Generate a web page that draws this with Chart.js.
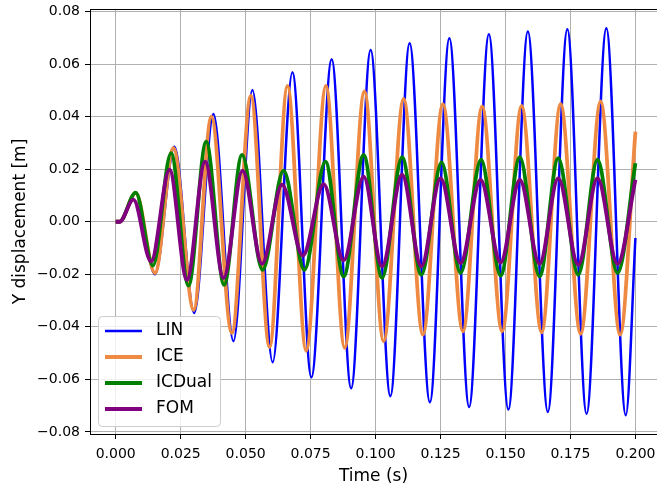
<!DOCTYPE html>
<html>
<head>
<meta charset="utf-8">
<script src="https://cdn.jsdelivr.net/npm/chart.js@4.4.1/dist/chart.umd.min.js"></script>
<style>
    body { margin: 0; background: #fff; }
    canvas { display: block; }
</style>
</head>
<body>
<canvas id="dispChart" width="657" height="487"></canvas>
<script>
// series labels, in legend order
const seriesNames = ["LIN", "ICE", "ICDual", "FOM"];

// values (extrema of each curve, plus start / end)
const linT = [0, 0.0015, 0.0077, 0.0151, 0.0226, 0.0302, 0.0376, 0.0453, 0.0526, 0.0604, 0.068, 0.0753, 0.0831, 0.0906, 0.0981, 0.1057, 0.1131, 0.1209, 0.1284, 0.136, 0.1436, 0.1511, 0.1586, 0.1663, 0.1738, 0.1812, 0.1888, 0.1963, 0.2];
const linY = [0, 0, 0.0110, -0.0200, 0.0286, -0.0347, 0.0410, -0.0455, 0.0502, -0.0535, 0.0569, -0.0592, 0.0619, -0.0634, 0.0654, -0.0664, 0.0680, -0.0687, 0.0699, -0.0705, 0.0714, -0.0715, 0.0724, -0.0724, 0.0733, -0.0731, 0.0737, -0.0737, -0.0062];

const iceT = [0, 0.0015, 0.0077, 0.0151, 0.0222, 0.0300, 0.0368, 0.0447, 0.052, 0.0592, 0.0661, 0.0733, 0.0809, 0.0881, 0.0957, 0.1031, 0.1108, 0.1182, 0.1259, 0.1336, 0.141, 0.1487, 0.1562, 0.1639, 0.1712, 0.1789, 0.1866, 0.1941, 0.2];
const iceY = [0, 0, 0.0110, -0.0195, 0.0280, -0.0335, 0.0400, -0.0424, 0.0480, -0.0477, 0.0517, -0.0491, 0.0517, -0.0480, 0.0496, -0.0455, 0.0468, -0.0430, 0.0448, -0.0417, 0.0439, -0.0417, 0.0441, -0.0421, 0.0449, -0.0427, 0.0458, -0.0430, 0.0343];

const dualT = [0, 0.0015, 0.0077, 0.0143, 0.0213, 0.028, 0.0348, 0.0417, 0.0486, 0.0565, 0.0646, 0.0726, 0.0807, 0.0877, 0.0954, 0.1025, 0.1102, 0.1176, 0.1254, 0.1327, 0.1406, 0.1481, 0.1555, 0.1631, 0.1703, 0.178, 0.1854, 0.1931, 0.2];
const dualY = [0, 0, 0.0111, -0.0167, 0.0261, -0.0243, 0.0305, -0.0240, 0.0255, -0.0183, 0.0195, -0.0183, 0.0229, -0.0208, 0.0255, -0.0214, 0.0246, -0.0202, 0.0226, -0.0195, 0.0236, -0.0205, 0.0246, -0.0208, 0.0242, -0.0202, 0.0236, -0.0195, 0.0223];

const fomT = [0, 0.0015, 0.0068, 0.0136, 0.0207, 0.0274, 0.0344, 0.0415, 0.0488, 0.0563, 0.064, 0.072, 0.08, 0.0877, 0.0954, 0.1025, 0.1102, 0.1176, 0.125, 0.1327, 0.1404, 0.1481, 0.1555, 0.1631, 0.1703, 0.178, 0.1854, 0.1931, 0.2];
const fomY = [0, 0, 0.0084, -0.0151, 0.0198, -0.0221, 0.0229, -0.0214, 0.0195, -0.0160, 0.0141, -0.0129, 0.0143, -0.0147, 0.0172, -0.0170, 0.0179, -0.0170, 0.0166, -0.0157, 0.0160, -0.0155, 0.0160, -0.0160, 0.0166, -0.0164, 0.0166, -0.0161, 0.0160];

// tick labels
const xTicks = [0, 0.025, 0.05, 0.075, 0.1, 0.125, 0.15, 0.175, 0.2];
const yTicks = [-0.08, -0.06, -0.04, -0.02, 0, 0.02, 0.04, 0.06, 0.08];

const colors = ["#0000ff", "#ef8a43", "#008000", "#800080"];
const widths = [2.5, 3.8, 3.8, 3.8];

function toPoints(ts, ys) {
    return ts.map((t, i) => ({ x: t, y: ys[i] }));
}

const allSeries = [toPoints(linT, linY), toPoints(iceT, iceY), toPoints(dualT, dualY), toPoints(fomT, fomY)];

Chart.defaults.font.family = "'DejaVu Sans', sans-serif";
Chart.defaults.color = "#000";

// top spine + matplotlib style legend box
const framePlugin = {
    id: "frame",
    afterDatasetsDraw(chart) {
        const { ctx, chartArea } = chart;
        ctx.save();
        ctx.strokeStyle = "#000";
        ctx.lineWidth = 1;
        ctx.beginPath();
        ctx.moveTo(chartArea.left, chartArea.top + 0.5);
        ctx.lineTo(chartArea.right, chartArea.top + 0.5);
        ctx.stroke();

        // legend
        const bx = 98.5, by = 316.5, bw = 122, bh = 110, r = 4;
        ctx.beginPath();
        ctx.roundRect(bx, by, bw, bh, r);
        ctx.fillStyle = "rgba(255,255,255,0.8)";
        ctx.fill();
        ctx.strokeStyle = "#cccccc";
        ctx.stroke();

        ctx.font = "17px 'DejaVu Sans'";
        ctx.textBaseline = "middle";
        ctx.textAlign = "left";
        seriesNames.forEach((name, i) => {
            const y = 331 + i * 26;
            ctx.beginPath();
            ctx.moveTo(105, y);
            ctx.lineTo(142, y);
            ctx.strokeStyle = colors[i];
            ctx.lineWidth = widths[i];
            ctx.stroke();
            ctx.fillStyle = "#000";
            ctx.fillText(name, 156, y);
        });
        ctx.restore();
    }
};

const ctx = document.getElementById("dispChart").getContext("2d");
new Chart(ctx, {
    type: "line",
    data: {
        datasets: seriesNames.map((name, i) => ({
            label: name,
            data: allSeries[i],
            borderColor: colors[i],
            borderWidth: widths[i],
            pointRadius: 0,
            fill: false,
            cubicInterpolationMode: "monotone",
            order: seriesNames.length - i
        }))
    },
    options: {
        responsive: false,
        animation: false,
        layout: { padding: { top: 9, right: 0, bottom: 0, left: 0 } },
        plugins: {
            legend: { display: false },
            tooltip: { enabled: false }
        },
        scales: {
            x: {
                type: "linear",
                min: -0.0099,
                max: 0.2083,
                afterBuildTicks: (scale) => { scale.ticks = xTicks.map(v => ({ value: v })); },
                afterFit: (scale) => {
                    scale.height = 53;
                    scale.paddingLeft = 0;
                    scale.paddingRight = 0;
                },
                ticks: {
                    font: { size: 14 },
                    padding: 7,
                    maxRotation: 0,
                    callback: (v) => v.toFixed(3)
                },
                grid: { color: "#b0b0b0", lineWidth: 1, tickLength: 5, tickColor: "#000" },
                border: { display: true, color: "#000", width: 1 },
                title: { display: true, text: "Time (s)", font: { size: 17 }, padding: { top: 0, bottom: 0 } }
            },
            y: {
                type: "linear",
                min: -0.0808,
                max: 0.081,
                afterBuildTicks: (scale) => { scale.ticks = yTicks.map(v => ({ value: v })); },
                afterFit: (scale) => {
                    scale.width = 90;
                    scale.paddingTop = 0;
                    scale.paddingBottom = 0;
                },
                ticks: {
                    font: { size: 14 },
                    padding: 5,
                    callback: (v) => (v < 0 ? "\u2212" : "") + Math.abs(v).toFixed(2)
                },
                grid: { color: "#b0b0b0", lineWidth: 1, tickLength: 5, tickColor: "#000" },
                border: { display: true, color: "#000", width: 1 },
                title: { display: true, text: "Y displacement [m]", font: { size: 17 }, padding: { top: 10, bottom: 0 } }
            }
        }
    },
    plugins: [framePlugin]
});
</script>
</body>
</html>
